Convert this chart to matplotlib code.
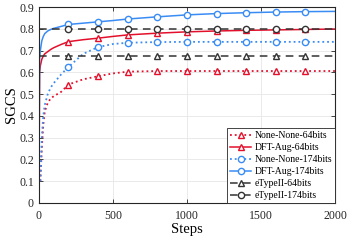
import numpy as np
import matplotlib
matplotlib.use("Agg")
import matplotlib.pyplot as plt

plt.rcParams['font.family'] = ['Liberation Serif', 'DejaVu Serif']

# training steps and SGCS curves
steps = [0, 5, 10, 20, 30, 40, 60, 80, 100, 150, 200, 300, 400, 500, 600,
         800, 1000, 1200, 1400, 1600, 1800, 2000]
none_64 = [np.nan, np.nan, 0.10, 0.25, 0.36, 0.42, 0.46, 0.48, 0.49, 0.51, 0.544,
           0.568, 0.582, 0.595, 0.603, 0.606, 0.606, 0.606, 0.606, 0.606, 0.606, 0.606]
dft_64 = [0.0, 0.60, 0.63, 0.66, 0.675, 0.685, 0.695, 0.705, 0.713, 0.728, 0.741,
          0.750, 0.757, 0.765, 0.772, 0.780, 0.786, 0.790, 0.793, 0.795, 0.797, 0.799]
none_174 = [np.nan, np.nan, 0.10, 0.30, 0.40, 0.45, 0.50, 0.53, 0.55, 0.59, 0.625,
            0.685, 0.716, 0.730, 0.736, 0.739, 0.740, 0.740, 0.740, 0.740, 0.740, 0.740]
dft_174 = [0.0, 0.66, 0.70, 0.745, 0.765, 0.778, 0.790, 0.797, 0.802, 0.811, 0.820,
           0.826, 0.832, 0.838, 0.845, 0.855, 0.864, 0.870, 0.874, 0.877, 0.879, 0.880]
etype_64 = 0.675
etype_174 = 0.797

marker_steps = [200, 400, 600, 800, 1000, 1200, 1400, 1600, 1800]
mark_idx = [steps.index(s) for s in marker_steps]

red = '#E3102C'
blue = '#3A8CF5'
dark = '#333333'

fig = plt.figure(figsize=(3.5, 2.43), dpi=100)
ax = fig.add_axes([0.111, 0.165, 0.846, 0.806])

ms = 4.5
ax.plot(steps, none_64, ':', color=red, lw=1.3, marker='^', ms=ms, mfc='white',
        mew=1.0, markevery=mark_idx, label='None-None-64bits')
ax.plot(steps, dft_64, '-', color=red, lw=1.1, marker='^', ms=ms, mfc='white',
        mew=1.0, markevery=mark_idx, label='DFT-Aug-64bits')
ax.plot(steps, none_174, ':', color=blue, lw=1.3, marker='o', ms=ms, mfc='white',
        mew=1.0, markevery=mark_idx, label='None-None-174bits')
ax.plot(steps, dft_174, '-', color=blue, lw=1.1, marker='o', ms=ms, mfc='white',
        mew=1.0, markevery=mark_idx, label='DFT-Aug-174bits')
ax.plot(steps, [etype_64] * len(steps), '--', color=dark, lw=1.1, dashes=(5, 3.5),
        marker='^', ms=ms, mfc='white', mew=1.0, markevery=mark_idx,
        label='eTypeII-64bits')
ax.plot(steps, [etype_174] * len(steps), '--', color=dark, lw=1.1, dashes=(5, 3.5),
        marker='o', ms=ms, mfc='white', mew=1.0, markevery=mark_idx,
        label='eTypeII-174bits')

ax.set_xlim(0, 2000)
ax.set_ylim(0, 0.9)
ax.set_xticks([0, 500, 1000, 1500, 2000])
ax.set_yticks([0, 0.1, 0.2, 0.3, 0.4, 0.5, 0.6, 0.7, 0.8, 0.9])
ax.set_yticklabels(['0', '0.1', '0.2', '0.3', '0.4', '0.5', '0.6', '0.7', '0.8', '0.9'])
ax.tick_params(direction='in', top=True, right=True, labelsize=8.5, length=3,
               width=0.6, colors='#262626')
ax.tick_params(axis='x', pad=5)
ax.grid(True, color='#e6e6e6', lw=0.6)
ax.set_axisbelow(True)
for sp in ax.spines.values():
    sp.set_linewidth(0.8)
    sp.set_color('#262626')

ax.set_xlabel('Steps', fontsize=10.5, labelpad=1)
ax.set_ylabel('SGCS', fontsize=10.5, labelpad=1)

leg = ax.legend(loc='lower right', fontsize=7, borderaxespad=0, handlelength=2.2,
                handletextpad=0.3, labelspacing=0.3, borderpad=0.3, fancybox=False,
                framealpha=1, edgecolor='#262626')
leg.get_frame().set_linewidth(0.6)

fig.savefig('out.png', dpi=100)
